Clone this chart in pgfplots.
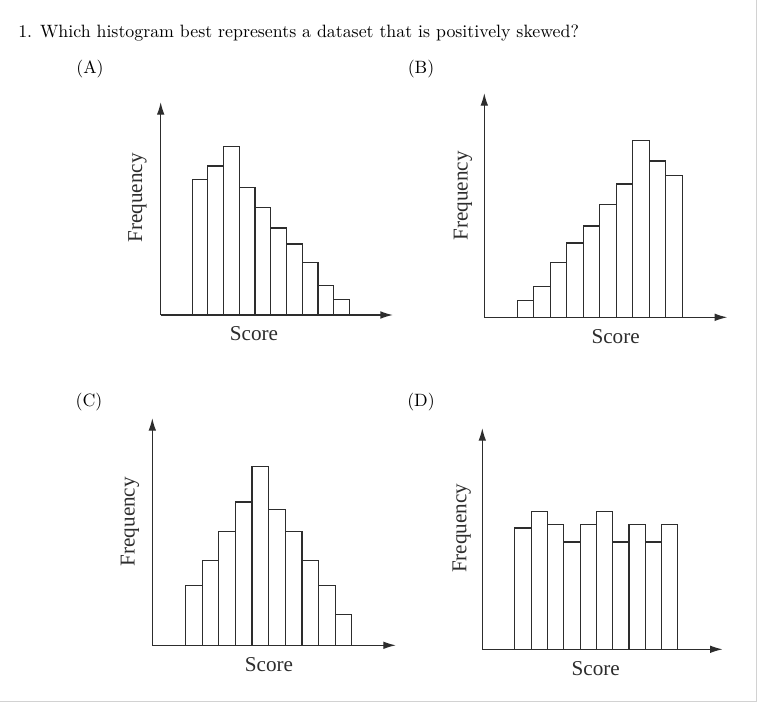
\documentclass[border=0pt]{standalone}
\usepackage{fontspec}
\usepackage{pgfplots}
\pgfplotsset{compat=1.18}
\usetikzlibrary{arrows.meta}
\newfontfamily\tnr{Liberation Serif}
\definecolor{ln}{RGB}{45,45,45}
\definecolor{frame}{RGB}{210,210,210}
\pgfplotsset{
  hist/.style={
    axis x line*=bottom, axis y line*=left,
    axis line style={line width=0.8pt, draw=ln, -{Latex[length=7.6pt,width=4.6pt]}},
    xtick=\empty, ytick=\empty,
    xmin=0, ymin=0,
    y=0.6pt,
    anchor=south west,
    clip=false,
    label style={font=\tnr\fontsize{12.7}{14}\selectfont, text=ln},
    xlabel={Score}, ylabel={Frequency},
  },
  bars/.style={ybar interval, draw=ln, line width=0.7pt, fill=white},
}
\begin{document}
\begin{tikzpicture}
\begin{scope}[x=0.6pt,y=-0.6pt]
  \useasboundingbox (0,0) rectangle (758,703);
  \draw[frame, line width=0.9pt] (756.5,0) -- (756.5,701.5) -- (0,701.5);
  \node[anchor=base west, inner sep=0pt, font=\fontsize{10.7}{12}\selectfont] at (18,37.7)
    {1. Which histogram best represents a dataset that is positively skewed?};
  \node[font=\fontsize{10.7}{12}\selectfont] at (90,69) {(A)};
  \node[font=\fontsize{10.7}{12}\selectfont] at (421,69) {(B)};
  \node[font=\fontsize{10.7}{12}\selectfont] at (89,402) {(C)};
  \node[font=\fontsize{10.7}{12}\selectfont] at (421,402) {(D)};
\end{scope}

% (A) positively skewed
\begin{axis}[hist, at={(160.7*0.6pt,-315*0.6pt)}, x=9.438pt, xmax=14.77, ymax=213,
  xlabel style={at={(axis cs:5.93,-18.7)}, anchor=center},
  ylabel style={at={(axis cs:-1.47,117)}, anchor=center}]
\addplot[bars] coordinates {(2,135.7) (3,149) (4,168.7) (5,127.3) (6,107.7) (7,87) (8,71) (9,52.3) (10,29.3) (11,15.7) (12,15.7)};
\end{axis}

% (B) negatively skewed
\begin{axis}[hist, at={(484.3*0.6pt,-317.3*0.6pt)}, x=9.9pt, xmax=14.73, ymax=224.3,
  xlabel style={at={(axis cs:7.96,-19.7)}, anchor=center},
  ylabel style={at={(axis cs:-1.29,121.5)}, anchor=center}]
\addplot[bars] coordinates {(2,17) (3,30.7) (4,55) (5,74.3) (6,91.3) (7,112.7) (8,133.3) (9,177) (10,156.3) (11,142) (12,142)};
\end{axis}

% (C) symmetric
\begin{axis}[hist, at={(152.3*0.6pt,-645.3*0.6pt)}, x=9.978pt, xmax=14.65, ymax=227.3,
  xlabel style={at={(axis cs:7.02,-19.4)}, anchor=center},
  ylabel style={at={(axis cs:-1.34,123.6)}, anchor=center}]
\addplot[bars] coordinates {(2,59.7) (3,84.7) (4,113.7) (5,143.3) (6,178.7) (7,136) (8,113.7) (9,84.7) (10,59.7) (11,31) (12,31)};
\end{axis}

% (D) uniform
\begin{axis}[hist, at={(482.3*0.6pt,-649.3*0.6pt)}, x=9.78pt, xmax=14.75, ymax=221.3,
  xlabel style={at={(axis cs:6.96,-19.7)}, anchor=center},
  ylabel style={at={(axis cs:-1.26,121)}, anchor=center}]
\addplot[bars] coordinates {(2,121.3) (3,137.7) (4,124.7) (5,107.3) (6,124.7) (7,137.7) (8,107.3) (9,124.7) (10,107.3) (11,124.7) (12,124.7)};
\end{axis}
\end{tikzpicture}
\end{document}
